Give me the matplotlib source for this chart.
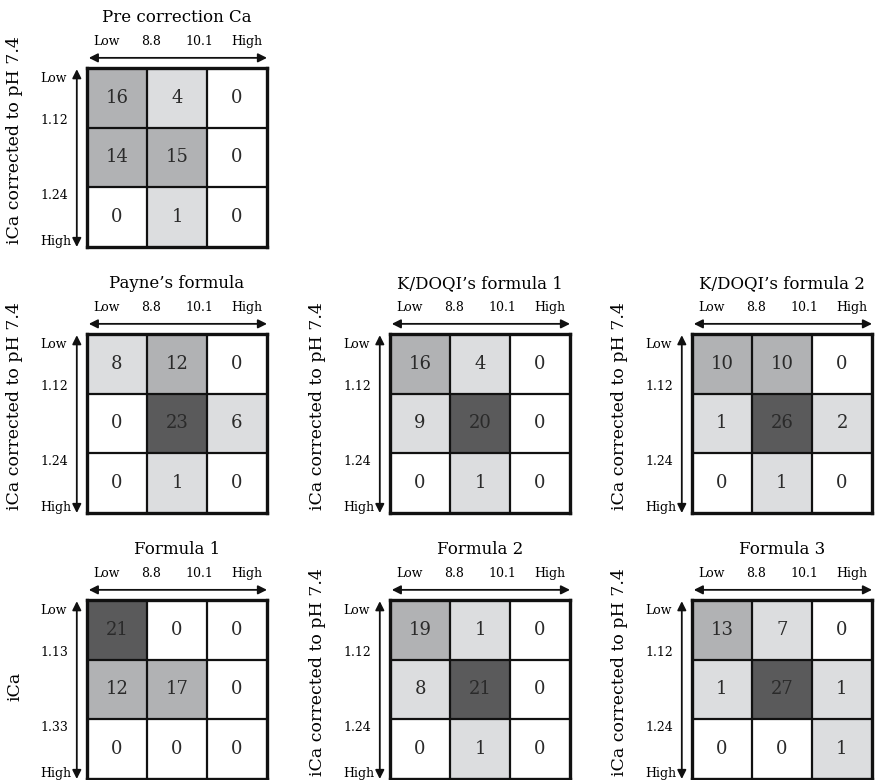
import numpy as np
import matplotlib.pyplot as plt
from matplotlib.colors import ListedColormap, BoundaryNorm

# -- data
titles = ["Pre correction Ca", "Payne\u2019s formula", "K/DOQI\u2019s formula 1",
          "K/DOQI\u2019s formula 2", "Formula 1", "Formula 2", "Formula 3"]

pre_correction = [[16, 4, 0], [14, 15, 0], [0, 1, 0]]
payne = [[8, 12, 0], [0, 23, 6], [0, 1, 0]]
kdoqi_1 = [[16, 4, 0], [9, 20, 0], [0, 1, 0]]
kdoqi_2 = [[10, 10, 0], [1, 26, 2], [0, 1, 0]]
formula_1 = [[21, 0, 0], [12, 17, 0], [0, 0, 0]]
formula_2 = [[19, 1, 0], [8, 21, 0], [0, 1, 0]]
formula_3 = [[13, 7, 0], [1, 27, 1], [0, 0, 1]]
tables = [pre_correction, payne, kdoqi_1, kdoqi_2, formula_1, formula_2, formula_3]

x_labels = ["Low", "8.8", "10.1", "High"]
y_labels = [["Low", "1.12", "1.24", "High"]] * 4 + [["Low", "1.13", "1.33", "High"]] \
    + [["Low", "1.12", "1.24", "High"]] * 2
y_titles = ["iCa corrected to pH 7.4"] * 4 + ["iCa"] + ["iCa corrected to pH 7.4"] * 2

# -- shading by count: 0, 1-9, 10-19, 20+
cmap = ListedColormap(["#ffffff", "#dcdddf", "#b1b2b4", "#5a5a5b"])
norm = BoundaryNorm([0, 1, 10, 20, 100], cmap.N)

plt.rcParams["font.family"] = ["DejaVu Serif"]

W, H = 877, 780
fig = plt.figure(figsize=(W / 100, H / 100), dpi=100)

# -- grid boxes in pixels (left, top)
boxes = [(87, 68), (87, 334), (390, 334), (692, 334), (87, 600), (390, 600), (692, 600)]
bw, bh = 180, 179

for k in range(7):
    x0, y0 = boxes[k]
    ax = fig.add_axes([x0 / W, 1 - (y0 + bh) / H, bw / W, bh / H])
    data = np.array(tables[k])
    ax.pcolormesh(np.arange(4), np.arange(4), data, cmap=cmap, norm=norm)
    ax.set_xlim(0, 3)
    ax.set_ylim(3, 0)
    for i in range(3):
        for j in range(3):
            ax.text(j + 0.5, i + 0.5, str(data[i, j]), ha="center", va="center",
                    fontsize=13, color="#2a2a2a")
    for v in [1, 2]:
        ax.axvline(v, color="#111111", lw=1.6)
        ax.axhline(v, color="#111111", lw=1.6)
    ax.set_xticks([])
    ax.set_yticks([])
    for s in ax.spines.values():
        s.set_linewidth(2.4)
        s.set_color("#111111")

    # -- horizontal arrow + labels
    ax.annotate("", xy=(3.0, -0.17), xytext=(0.03, -0.17), xycoords="data",
                arrowprops=dict(arrowstyle="<|-|>", color="#111111", lw=1.3,
                                mutation_scale=13, shrinkA=0, shrinkB=0),
                annotation_clip=False)
    for xp, lab in zip([0.33, 1.06, 1.88, 2.66], x_labels):
        ax.text(xp, -0.45, lab, ha="center", va="center", fontsize=9, clip_on=False)
    ax.text(1.5, -0.84, titles[k], ha="center", va="center", fontsize=12, clip_on=False)

    # -- vertical arrow + labels
    ax.annotate("", xy=(-0.17, 3.0), xytext=(-0.17, 0.02), xycoords="data",
                arrowprops=dict(arrowstyle="<|-|>", color="#111111", lw=1.3,
                                mutation_scale=13, shrinkA=0, shrinkB=0),
                annotation_clip=False)
    for yp, lab in zip([0.17, 0.88, 2.14, 2.9], y_labels[k]):
        ax.text(-0.78, yp, lab, ha="left", va="center", fontsize=9, clip_on=False)
    yc = 1.45 if y_titles[k] == "iCa" else 1.2
    ax.text(-1.2, yc, y_titles[k], ha="center", va="center", rotation=90,
            fontsize=12.5, clip_on=False)

fig.savefig("out.png", dpi=100)
